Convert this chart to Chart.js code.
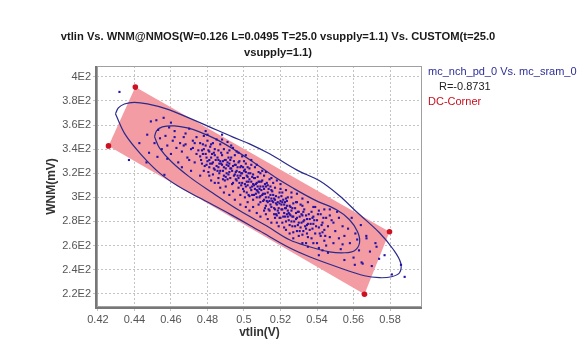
<!DOCTYPE html>
<html>
<head>
<meta charset="utf-8">
<script src="https://cdn.jsdelivr.net/npm/chart.js@4/dist/chart.umd.min.js"></script>
<style>
  html, body { margin: 0; padding: 0; background: #fff; }
  #wrap { position: relative; width: 577px; height: 342px; }
  #title { position: absolute; left: 0; top: 28px; width: 556px; text-align: center;
           font: bold 11.2px "Liberation Sans", Arial, sans-serif; line-height: 16px; color: #1a1a1a; }
  #legend { position: absolute; left: 428px; top: 64px; font: 11px "Liberation Sans", Arial, sans-serif; line-height: 15px; }
  #legend .s { color: #2e2e9a; }
  #legend .r { color: #222; padding-left: 11px; }
  #legend .c { color: #c8101e; }
</style>
</head>
<body>
<div id="wrap">
  <canvas id="chart" width="577" height="342"></canvas>
  <div id="title">vtlin Vs. WNM@NMOS(W=0.126 L=0.0495 T=25.0 vsupply=1.1) Vs. CUSTOM(t=25.0<br>vsupply=1.1)</div>
  <div id="legend">
    <div class="s">mc_nch_pd_0 Vs. mc_sram_0</div>
    <div class="r">R=-0.8731</div>
    <div class="c">DC-Corner</div>
  </div>
</div>
<script>
// tick values
const xTicks = [0.42, 0.44, 0.46, 0.48, 0.5, 0.52, 0.54, 0.56, 0.58];
const yTicks = [220, 240, 260, 280, 300, 320, 340, 360, 380, 400];

// DC corners (vtlin V, WNM mV)
const cornerX = [0.4405, 0.4258, 0.566, 0.5797];
const cornerY = [391.5, 342.7, 219.6, 271.5];

// outer contour
const outerX = [0.4296, 0.4312, 0.4345, 0.4400, 0.4471, 0.4575, 0.4685, 0.4811, 0.4937, 0.5030, 0.5140, 0.5288,
  0.5414, 0.5523, 0.5616, 0.5742, 0.5819, 0.5858, 0.5852, 0.5808, 0.5742, 0.5660, 0.5523, 0.5359, 0.5249,
  0.5085, 0.4921, 0.4756, 0.4636, 0.4537, 0.4438, 0.4351, 0.4296];
const outerY = [369.3, 374.2, 377.5, 378.8, 377.5, 373.4, 366.8, 358.5, 350.2, 344.4, 336.1, 322.8,
  313.7, 301.3, 288.0, 270.6, 256.5, 245.7, 237.4, 234.1, 233.3, 234.9, 241.6, 250.7, 258.1,
  272.2, 286.3, 299.6, 309.6, 320.3, 335.3, 351.8, 369.3];

// inner contour
const innerX = [0.4510, 0.4521, 0.4553, 0.4619, 0.4690, 0.4756, 0.4844, 0.4948, 0.5058, 0.5167, 0.5266, 0.5386,
  0.5507, 0.5578, 0.5622, 0.5633, 0.5605, 0.5551, 0.5468, 0.5359, 0.5249, 0.5123, 0.4975, 0.4827, 0.4701,
  0.4603, 0.4537, 0.4510];
const innerY = [350.2, 355.2, 358.5, 359.3, 357.6, 354.3, 348.5, 339.4, 328.6, 317.0, 307.9, 297.9,
  289.7, 281.4, 271.4, 262.3, 255.7, 254.0, 254.8, 259.0, 264.8, 276.4, 289.0, 303.8, 317.0,
  329.5, 341.1, 350.2];

// monte carlo samples [vtlin, WNM]
const mcPoints = [
  [0.4318, 387.5], [0.437, 331], [0.4427, 345], [0.4466, 329], [0.4526, 333.6], [0.4564, 318.7],
  [0.447, 352], [0.449, 363], [0.452, 364], [0.456, 366], [0.451, 345], [0.453, 356], [0.455, 340], [0.448, 337], [0.454, 349],
  [0.457, 351], [0.458, 343], [0.459, 358], [0.460, 336], [0.461, 347], [0.462, 355], [0.463, 341], [0.464, 329],
  [0.458, 332], [0.462, 350], [0.465, 345], [0.460, 362],
  [0.466, 338], [0.467, 350], [0.468, 344], [0.469, 333], [0.470, 357], [0.471, 340], [0.472, 347], [0.473, 329],
  [0.474, 336], [0.466, 325], [0.468, 353], [0.470, 331], [0.472, 341], [0.474, 350], [0.467, 343], [0.471, 322],
  [0.473, 345], [0.475, 339],
  [0.476, 334], [0.476, 345], [0.477, 328], [0.477, 339], [0.478, 351], [0.478, 322], [0.479, 336], [0.479, 343],
  [0.480, 330], [0.480, 347], [0.481, 325], [0.481, 338], [0.482, 333], [0.482, 344], [0.483, 319], [0.483, 329],
  [0.484, 340], [0.484, 335], [0.485, 326], [0.485, 348], [0.476, 318], [0.479, 355], [0.482, 314], [0.484, 323],
  [0.478, 340], [0.481, 331],
  [0.4765, 331], [0.4775, 336], [0.4785, 326], [0.4795, 333], [0.4805, 339], [0.4815, 328], [0.4825, 336],
  [0.4835, 324], [0.4845, 331], [0.4775, 344], [0.4795, 327], [0.4815, 342], [0.4835, 337], [0.4805, 321], [0.4825, 328],
  [0.481, 318], [0.484, 312], [0.487, 308], [0.489, 304], [0.492, 302], [0.495, 298], [0.498, 294], [0.486, 316],
  [0.483, 345], [0.488, 352], [0.491, 346], [0.494, 341], [0.497, 337], [0.480, 352],
  [0.486, 331], [0.486, 339], [0.487, 322], [0.487, 344], [0.488, 327], [0.488, 335], [0.489, 318], [0.489, 340],
  [0.490, 324], [0.490, 331], [0.491, 337], [0.491, 315], [0.492, 328], [0.492, 321], [0.493, 333], [0.493, 343],
  [0.494, 312], [0.494, 326], [0.495, 319], [0.495, 335], [0.486, 312], [0.488, 348], [0.490, 309], [0.492, 339],
  [0.494, 305], [0.487, 330], [0.489, 325], [0.491, 329], [0.493, 324], [0.495, 327], [0.486, 325], [0.490, 317],
  [0.4855, 333], [0.4865, 320], [0.4875, 328], [0.4885, 322], [0.4895, 331], [0.4905, 320], [0.4915, 326],
  [0.4925, 316], [0.4935, 322], [0.4945, 330], [0.4855, 322], [0.4875, 337], [0.4895, 314], [0.4915, 333],
  [0.4935, 311], [0.4865, 328], [0.4885, 330], [0.4905, 327], [0.4925, 324], [0.4945, 318],
  [0.4925, 331], [0.4955, 321], [0.4985, 326], [0.4885, 315], [0.4915, 319], [0.4995, 325],
  [0.496, 322], [0.496, 314], [0.497, 329], [0.497, 308], [0.498, 318], [0.498, 325], [0.499, 312], [0.499, 334],
  [0.500, 316], [0.500, 305], [0.501, 321], [0.501, 328], [0.502, 310], [0.502, 317], [0.503, 301], [0.503, 324],
  [0.504, 313], [0.504, 306], [0.505, 319], [0.505, 298], [0.496, 338], [0.498, 302], [0.500, 330], [0.502, 296],
  [0.504, 327], [0.497, 316], [0.499, 320], [0.501, 309], [0.503, 315], [0.505, 311], [0.500, 322], [0.502, 325],
  [0.4955, 315], [0.4965, 325], [0.4975, 312], [0.4985, 320], [0.4995, 316], [0.5005, 311], [0.5015, 318],
  [0.5025, 313], [0.5035, 308], [0.5045, 317], [0.4955, 327], [0.4975, 321], [0.4995, 307], [0.5015, 304],
  [0.5035, 320], [0.4965, 318], [0.4985, 310], [0.5005, 323], [0.5025, 302], [0.5045, 309], [0.4975, 330], [0.5005, 300],
  [0.501, 292], [0.503, 289], [0.505, 292], [0.507, 287], [0.509, 284], [0.511, 289], [0.513, 282], [0.515, 279],
  [0.517, 283], [0.519, 276], [0.501, 335], [0.504, 331], [0.507, 327], [0.509, 320], [0.512, 321], [0.515, 316],
  [0.518, 314], [0.520, 311],
  [0.5015, 313], [0.5045, 302], [0.5025, 320], [0.5055, 316], [0.5085, 313], [0.5115, 311], [0.5145, 309],
  [0.506, 307], [0.506, 316], [0.507, 300], [0.507, 312], [0.508, 321], [0.508, 304], [0.509, 309], [0.509, 296],
  [0.510, 314], [0.510, 302], [0.511, 307], [0.511, 318], [0.512, 293], [0.512, 300], [0.513, 310], [0.513, 304],
  [0.514, 297], [0.514, 289], [0.515, 306], [0.515, 299], [0.506, 325], [0.508, 294], [0.510, 322], [0.512, 286],
  [0.514, 315], [0.507, 306], [0.509, 301], [0.511, 298], [0.513, 296], [0.515, 292], [0.508, 313], [0.512, 309],
  [0.5055, 310], [0.5065, 303], [0.5075, 309], [0.5085, 300], [0.5095, 306], [0.5105, 297], [0.5115, 303],
  [0.5125, 312], [0.5135, 300], [0.5145, 294], [0.5055, 302], [0.5075, 317], [0.5095, 313], [0.5115, 291],
  [0.5135, 307], [0.5065, 311], [0.5085, 307], [0.5105, 309], [0.5125, 297], [0.5145, 302],
  [0.5075, 305], [0.5105, 303], [0.5135, 290],
  [0.516, 296], [0.516, 302], [0.517, 290], [0.517, 308], [0.518, 294], [0.518, 285], [0.519, 300], [0.519, 291],
  [0.520, 297], [0.520, 283], [0.521, 304], [0.521, 290], [0.522, 287], [0.522, 294], [0.523, 280], [0.523, 299],
  [0.524, 289], [0.524, 284], [0.525, 293], [0.525, 277], [0.516, 312], [0.518, 279], [0.520, 307], [0.522, 275],
  [0.524, 300], [0.517, 298], [0.519, 287], [0.521, 296], [0.523, 291], [0.525, 286],
  [0.5155, 297], [0.5165, 291], [0.5175, 301], [0.5185, 289], [0.5195, 295], [0.5205, 290], [0.5215, 298],
  [0.5225, 284], [0.5235, 293], [0.5245, 287], [0.5155, 305], [0.5175, 286], [0.5195, 304], [0.5215, 284],
  [0.5235, 297], [0.5165, 299], [0.5185, 296], [0.5205, 301], [0.5225, 291], [0.5245, 281],
  [0.5165, 286], [0.5195, 283], [0.5225, 296], [0.5175, 295], [0.5205, 294], [0.5235, 286],
  [0.521, 279], [0.523, 273], [0.525, 270], [0.527, 266], [0.530, 268], [0.532, 262], [0.535, 259], [0.538, 262],
  [0.541, 252], [0.543, 256], [0.546, 254], [0.523, 306], [0.526, 304], [0.529, 303], [0.532, 293], [0.535, 296],
  [0.538, 292], [0.541, 289], [0.544, 290], [0.547, 285],
  [0.526, 289], [0.526, 280], [0.527, 295], [0.527, 284], [0.528, 276], [0.528, 291], [0.529, 283], [0.529, 272],
  [0.530, 288], [0.530, 279], [0.531, 294], [0.531, 275], [0.532, 285], [0.532, 269], [0.533, 281], [0.533, 290],
  [0.534, 274], [0.534, 285], [0.535, 278], [0.535, 267], [0.526, 300], [0.529, 296], [0.532, 299], [0.534, 262],
  [0.527, 271],
  [0.5255, 285], [0.5265, 291], [0.5275, 280], [0.5285, 287], [0.5295, 277], [0.5305, 284], [0.5315, 279],
  [0.5325, 288], [0.5335, 276], [0.5345, 282], [0.5265, 284], [0.5285, 296], [0.5305, 272], [0.5325, 280], [0.5345, 270],
  [0.5255, 292], [0.5285, 282], [0.5315, 286], [0.5345, 277], [0.5265, 276], [0.5295, 288], [0.5325, 272],
  [0.536, 282], [0.536, 273], [0.537, 288], [0.537, 266], [0.538, 278], [0.538, 284], [0.539, 270], [0.540, 281],
  [0.540, 262], [0.541, 275], [0.542, 286], [0.542, 268], [0.543, 279], [0.544, 264], [0.544, 273], [0.545, 283],
  [0.539, 292], [0.541, 258], [0.543, 271], [0.545, 260],
  [0.5355, 286], [0.5365, 278], [0.5375, 274], [0.5385, 281], [0.5395, 276], [0.5405, 286], [0.5415, 270],
  [0.5425, 277], [0.5435, 283], [0.5445, 268], [0.5375, 283],
  [0.546, 276], [0.547, 267], [0.548, 281], [0.549, 262], [0.550, 272], [0.551, 288], [0.552, 266], [0.553, 257],
  [0.554, 276], [0.555, 268], [0.547, 290], [0.549, 279], [0.552, 283], [0.554, 261],
  [0.557, 274], [0.558, 262], [0.559, 283], [0.561, 270], [0.563, 256], [0.564, 277], [0.560, 250], [0.562, 265],
  [0.5607, 244], [0.5644, 246], [0.5671, 266], [0.5726, 259],
  [0.567, 268], [0.569, 255], [0.570, 243], [0.572, 262], [0.574, 249], [0.577, 252], [0.581, 236], [0.586, 244],
  [0.588, 234], [0.555, 248], [0.565, 245]
];

const toXY = (xs, ys) => xs.map((x, i) => ({ x: x, y: ys[i] }));

function fmtY(v) {
  const m = Math.round(v / 10) / 10;
  return m + 'E2';
}

const framePlugin = {
  id: 'frame',
  afterDraw(chart) {
    const a = chart.chartArea, ctx = chart.ctx;
    ctx.save();
    ctx.strokeStyle = '#a0a0a0';
    ctx.lineWidth = 1;
    ctx.strokeRect(a.left + 0.5, a.top + 0.5, a.right - a.left - 1, a.bottom - a.top - 1);
    ctx.strokeStyle = '#777';
    ctx.lineWidth = 2;
    ctx.beginPath();
    ctx.moveTo(a.left - 1, a.top);
    ctx.lineTo(a.left - 1, a.bottom + 1);
    ctx.lineTo(a.right, a.bottom + 1);
    ctx.stroke();
    ctx.restore();
  }
};

const ctx = document.getElementById('chart').getContext('2d');
new Chart(ctx, {
  type: 'scatter',
  data: {
    datasets: [
      {
        label: 'corner area',
        data: toXY(cornerX.concat([cornerX[0]]), cornerY.concat([cornerY[0]])),
        showLine: true,
        fill: 'shape',
        backgroundColor: '#f49ca4',
        borderWidth: 0,
        pointRadius: 0,
        order: 5
      },
      {
        label: 'outer',
        data: toXY(outerX, outerY),
        showLine: true,
        borderColor: '#2a2a8c',
        borderWidth: 1.2,
        tension: 0.35,
        pointRadius: 0,
        order: 3
      },
      {
        label: 'inner',
        data: toXY(innerX, innerY),
        showLine: true,
        borderColor: '#2a2a8c',
        borderWidth: 1.2,
        tension: 0.35,
        pointRadius: 0,
        order: 3
      },
      {
        label: 'mc_nch_pd_0 Vs. mc_sram_0',
        data: mcPoints.map(p => ({ x: p[0], y: p[1] })),
        pointStyle: 'rect',
        pointRadius: 1.5,
        borderWidth: 0,
        backgroundColor: '#2412a8',
        order: 2
      },
      {
        label: 'DC-Corner',
        data: toXY(cornerX, cornerY),
        pointRadius: 2.8,
        borderWidth: 0,
        backgroundColor: '#cc1122',
        order: 1
      }
    ]
  },
  options: {
    responsive: false,
    animation: false,
    layout: { padding: { left: 40, right: 155, top: 66, bottom: 0 } },
    plugins: {
      legend: { display: false },
      tooltip: { enabled: false }
    },
    scales: {
      x: {
        type: 'linear',
        min: 0.4195,
        max: 0.5975,
        afterBuildTicks: s => { s.ticks = xTicks.map(v => ({ value: v })); },
        afterFit: s => { s.height = 35; },
        ticks: {
          color: '#555',
          font: { family: '"Liberation Sans", Arial, sans-serif', size: 11 },
          padding: 2,
          callback: v => String(Math.round(v * 100) / 100)
        },
        grid: { color: '#c4c4c4', tickLength: 4 },
        border: { display: false, dash: [2, 2] },
        title: {
          display: true,
          text: 'vtlin(V)',
          color: '#333',
          font: { family: '"Liberation Sans", Arial, sans-serif', size: 12, weight: 'bold' },
          padding: { top: 0, bottom: 2 }
        }
      },
      y: {
        type: 'linear',
        min: 209,
        max: 409,
        afterBuildTicks: s => { s.ticks = yTicks.map(v => ({ value: v })); },
        afterFit: s => { s.width = 57; },
        ticks: {
          color: '#555',
          font: { family: '"Liberation Sans", Arial, sans-serif', size: 11 },
          padding: 2,
          callback: v => fmtY(v)
        },
        grid: { color: '#c4c4c4', tickLength: 4 },
        border: { display: false, dash: [2, 2] },
        title: {
          display: true,
          text: 'WNM(mV)',
          color: '#333',
          font: { family: '"Liberation Sans", Arial, sans-serif', size: 12, weight: 'bold' },
          padding: { top: 4, bottom: 0 }
        }
      }
    }
  },
  plugins: [framePlugin]
});
</script>
</body>
</html>
